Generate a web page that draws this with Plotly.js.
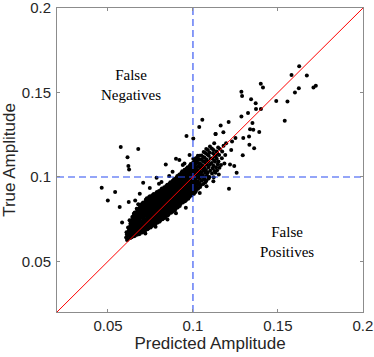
<!DOCTYPE html>
<html>
<head>
<meta charset="utf-8">
<script src="https://cdn.plot.ly/plotly-3.0.1.min.js"></script>
<style>html,body{margin:0;padding:0;background:#fff;}#chart{width:374px;height:357px;}</style>
</head>
<body>
<div id="chart"></div>
<script>
// Axis settings
const axisRange = [0.02, 0.2];
const tickValues = [0.05, 0.1, 0.15, 0.2];
const tickLabels = ["0.05", "0.1", "0.15", "0.2"];
const threshold = 0.1;
const xTitle = "Predicted Amplitude";
const yTitle = "True Amplitude";
const labelFN = "False<br>Negatives";
const labelFP = "False<br>Positives";

// Dense core of the cloud, one column of true values per predicted value
const coreColumnX = [0.061,0.062,0.063,0.064,0.065,0.066,0.067,0.068,0.069,0.070,
  0.071,0.072,0.073,0.074,0.075,0.076,0.077,0.078,0.079,0.080,
  0.081,0.082,0.083,0.084,0.085,0.086,0.087,0.088,0.089,0.090,
  0.091,0.092,0.093,0.094,0.095,0.096,0.097,0.098,0.099,0.100,
  0.101,0.102,0.103,0.104,0.105,0.106,0.107,0.108,0.109,0.110];
const coreColumnY = [
[0.0626,0.0641,0.0659,0.0672],
[0.0633,0.0651,0.0666,0.0684,0.0701],
[0.0638,0.0657,0.0673,0.0692,0.0708,0.0724,0.0743],
[0.0642,0.0659,0.0677,0.0694,0.0711,0.0729,0.0745,0.0762],
[0.0648,0.0663,0.0682,0.0698,0.0716,0.0731,0.0749,0.0767,0.0782],
[0.0652,0.0670,0.0686,0.0705,0.0721,0.0738,0.0756,0.0771,0.0790],
[0.0657,0.0674,0.0691,0.0708,0.0726,0.0743,0.0759,0.0778,0.0795,0.0812],
[0.0661,0.0679,0.0695,0.0713,0.0731,0.0746,0.0764,0.0781,0.0799,0.0815,0.0838],
[0.0664,0.0682,0.0700,0.0716,0.0734,0.0752,0.0768,0.0786,0.0803,0.0821,0.0835],
[0.0671,0.0688,0.0705,0.0722,0.0738,0.0757,0.0773,0.0791,0.0808,0.0824,0.0842],
[0.0676,0.0694,0.0711,0.0727,0.0745,0.0762,0.0779,0.0796,0.0813,0.0831,0.0848],
[0.0682,0.0698,0.0716,0.0733,0.0750,0.0768,0.0784,0.0801,0.0819,0.0836,0.0853,0.0866],
[0.0690,0.0705,0.0723,0.0740,0.0757,0.0773,0.0791,0.0808,0.0824,0.0842,0.0858,0.0874],
[0.0695,0.0712,0.0729,0.0746,0.0763,0.0780,0.0797,0.0814,0.0831,0.0848,0.0864,0.0881],
[0.0701,0.0718,0.0735,0.0751,0.0769,0.0786,0.0802,0.0820,0.0837,0.0853,0.0870,0.0886],
[0.0709,0.0725,0.0742,0.0759,0.0776,0.0793,0.0810,0.0826,0.0843,0.0860,0.0876,0.0892],
[0.0714,0.0731,0.0748,0.0765,0.0782,0.0799,0.0816,0.0832,0.0850,0.0866,0.0883,0.0899],
[0.0721,0.0737,0.0754,0.0772,0.0788,0.0805,0.0822,0.0839,0.0856,0.0872,0.0889,0.0904],
[0.0729,0.0746,0.0762,0.0779,0.0796,0.0813,0.0830,0.0847,0.0863,0.0880,0.0896,0.0911],
[0.0734,0.0751,0.0768,0.0785,0.0802,0.0819,0.0836,0.0852,0.0869,0.0886,0.0902,0.0916],
[0.0741,0.0758,0.0775,0.0792,0.0808,0.0825,0.0842,0.0859,0.0876,0.0892,0.0908,0.0922],
[0.0749,0.0766,0.0783,0.0800,0.0817,0.0833,0.0850,0.0867,0.0884,0.0900,0.0916,0.0931],
[0.0756,0.0772,0.0789,0.0806,0.0823,0.0840,0.0857,0.0873,0.0890,0.0907,0.0923,0.0939],
[0.0762,0.0779,0.0796,0.0813,0.0830,0.0846,0.0863,0.0880,0.0897,0.0913,0.0930,0.0947],
[0.0771,0.0787,0.0804,0.0821,0.0838,0.0855,0.0871,0.0888,0.0905,0.0921,0.0938,0.0953],
[0.0779,0.0796,0.0812,0.0829,0.0846,0.0863,0.0880,0.0896,0.0913,0.0930,0.0946,0.0960],
[0.0788,0.0805,0.0821,0.0838,0.0855,0.0872,0.0888,0.0905,0.0922,0.0938,0.0954,0.0968],
[0.0794,0.0811,0.0828,0.0845,0.0862,0.0878,0.0895,0.0912,0.0928,0.0945,0.0961,0.0978],
[0.0801,0.0818,0.0835,0.0852,0.0868,0.0885,0.0902,0.0919,0.0935,0.0952,0.0969,0.0987],
[0.0811,0.0827,0.0844,0.0861,0.0878,0.0894,0.0911,0.0928,0.0945,0.0961,0.0978,0.0996],
[0.0819,0.0836,0.0853,0.0870,0.0886,0.0903,0.0920,0.0937,0.0953,0.0970,0.0987,0.1005],
[0.0828,0.0845,0.0862,0.0879,0.0895,0.0912,0.0929,0.0946,0.0962,0.0979,0.0996,0.1014],
[0.0839,0.0856,0.0872,0.0889,0.0906,0.0923,0.0939,0.0956,0.0973,0.0990,0.1006,0.1024],
[0.0848,0.0865,0.0881,0.0898,0.0915,0.0932,0.0948,0.0965,0.0982,0.0999,0.1015,0.1033],
[0.0856,0.0873,0.0890,0.0906,0.0923,0.0940,0.0957,0.0973,0.0990,0.1007,0.1024,0.1042],
[0.0862,0.0879,0.0896,0.0913,0.0930,0.0946,0.0963,0.0980,0.0997,0.1013,0.1030,0.1050],
[0.0871,0.0888,0.0905,0.0921,0.0938,0.0955,0.0972,0.0988,0.1005,0.1022,0.1039,0.1058],
[0.0880,0.0897,0.0914,0.0930,0.0947,0.0964,0.0981,0.0997,0.1014,0.1031,0.1048,0.1067],
[0.0890,0.0907,0.0924,0.0940,0.0957,0.0974,0.0991,0.1007,0.1024,0.1041,0.1058,0.1076],
[0.0899,0.0916,0.0932,0.0949,0.0966,0.0983,0.1000,0.1016,0.1033,0.1050,0.1067,0.1085],
[0.0909,0.0928,0.0947,0.0966,0.0985,0.1004,0.1023,0.1042,0.1061,0.1080,0.1099],
[0.0918,0.0938,0.0958,0.0978,0.0998,0.1018,0.1038,0.1058,0.1078,0.1098,0.1112],
[0.0930,0.0952,0.0974,0.0996,0.1018,0.1040,0.1062,0.1084,0.1106,0.1125],
[0.0941,0.0964,0.0987,0.1010,0.1033,0.1056,0.1079,0.1102,0.1125],
[0.0952,0.0977,0.1002,0.1027,0.1052,0.1077,0.1102,0.1127],
[0.0958,0.0985,0.1012,0.1039,0.1066,0.1093,0.1120,0.1147],
[0.0968,0.0997,0.1026,0.1055,0.1084,0.1113,0.1142],
[0.0979,0.1010,0.1041,0.1072,0.1103,0.1134,0.1165],
[0.0990,0.1024,0.1058,0.1092,0.1126,0.1160],
[0.1000,0.1036,0.1072,0.1108,0.1144,0.1180]
];
// Small offsets of predicted value inside each column (read as spread of the dots)
const columnJitter = [0.0002,-0.0003,0.0001,-0.0001,0.0003,-0.0002,0.0000,0.0002,-0.0003,0.0001,0.0003,-0.0001];

// Scattered points around the cloud: [predicted, true]
const sparsePoints = [
[0.0660,0.0860],[0.0687,0.0900],[0.0707,0.0965],[0.0746,0.0935],[0.0786,0.0995],[0.0815,0.0970],
[0.0840,0.1073],[0.0880,0.1030],[0.0900,0.1107],[0.0920,0.1100],[0.0950,0.1080],[0.0962,0.1242],
[0.1002,0.1227],[0.1002,0.1107],[0.1037,0.1295],[0.1055,0.1338],[0.0980,0.1130],[0.0940,0.1070],
[0.0860,0.1005],[0.0800,0.0960],[0.0720,0.0665],[0.0780,0.0705],[0.0850,0.0748],[0.0900,0.0785],
[0.0958,0.0818],[0.0998,0.0936],[0.1006,0.0900],[0.1040,0.0905],[0.1080,0.0945],[0.1120,0.0975],
[0.1112,0.1020],[0.1116,0.1052],[0.1110,0.1082],[0.1114,0.1110],[0.1118,0.1140],[0.1111,0.1168],
[0.1122,0.0998],[0.1126,0.1035],[0.1120,0.1066],[0.1124,0.1098],[0.1128,0.1128],[0.1121,0.1160],[0.1125,0.1200],
[0.1132,0.1025],[0.1136,0.1058],[0.1130,0.1090],[0.1134,0.1120],[0.1138,0.1150],[0.1133,0.1254],
[0.1142,0.1040],[0.1146,0.1075],[0.1140,0.1108],[0.1144,0.1138],[0.1148,0.1175],
[0.1152,0.1015],[0.1156,0.1055],[0.1150,0.1092],[0.1154,0.1130],[0.1158,0.1165],
[0.1163,0.1305],[0.1165,0.1070],[0.1170,0.1110],[0.1172,0.1150],[0.1179,0.1264],[0.1180,0.1185],[0.1185,0.1080],
[0.1190,0.1130],[0.1195,0.1200],[0.1210,0.1325],[0.1212,0.0930],[0.1218,0.1073],[0.1225,0.1160],[0.1230,0.1210],
[0.1243,0.1064],[0.1257,0.1024],[0.1250,0.1230],
[0.1285,0.1505],[0.1289,0.1480],[0.1293,0.1128],[0.1285,0.1358],[0.1324,0.1378],[0.1332,0.1191],[0.1360,0.1170],
[0.1342,0.1460],[0.1369,0.1437],[0.1371,0.1403],[0.1400,0.1403],[0.1399,0.1552],[0.1412,0.1529],[0.1490,0.1450],
[0.1556,0.1446],[0.1540,0.1333],[0.1625,0.1656],[0.1580,0.1603],[0.1670,0.1600],[0.1623,0.1525],[0.1723,0.1540],
[0.1709,0.1529],[0.1600,0.1500],
[0.1296,0.1230],[0.1330,0.1240],[0.1355,0.1280],[0.1350,0.1319],[0.1390,0.1266],[0.1336,0.1283],
[0.0575,0.1177],[0.0678,0.1166],[0.0615,0.1117],[0.0620,0.1064],[0.0624,0.1044],[0.0463,0.0936],[0.0542,0.0910],
[0.0499,0.0861],[0.0622,0.0852],[0.0569,0.0822],[0.0583,0.0730],[0.1133,0.1254],[0.0966,0.0877]
];

const predicted = [];
const trueAmp = [];
coreColumnX.forEach((cx, i) => {
  coreColumnY[i].forEach((cy, j) => {
    predicted.push(cx + columnJitter[(i + j) % columnJitter.length]);
    trueAmp.push(cy);
  });
});
sparsePoints.forEach(p => { predicted.push(p[0]); trueAmp.push(p[1]); });

const traces = [
  {
    type: 'scatter', mode: 'markers', x: predicted, y: trueAmp,
    marker: {color: '#000000', size: 4, line: {width: 0}},
    hoverinfo: 'skip', showlegend: false
  },
  {
    type: 'scatter', mode: 'lines', x: [threshold, threshold], y: axisRange,
    line: {color: '#2a4cf2', width: 1.1, dash: '7px,4px'}, hoverinfo: 'skip', showlegend: false
  },
  {
    type: 'scatter', mode: 'lines', x: axisRange, y: [threshold, threshold],
    line: {color: '#2a4cf2', width: 1.1, dash: '7px,4px'}, hoverinfo: 'skip', showlegend: false
  },
  {
    type: 'scatter', mode: 'lines', x: axisRange, y: axisRange,
    line: {color: '#ff0000', width: 1}, hoverinfo: 'skip', showlegend: false
  }
];

const axisCommon = {
  range: [axisRange[0], axisRange[1] + 0.00005], tickvals: tickValues, ticktext: tickLabels,
  showgrid: false, zeroline: false, showline: true, linecolor: '#8c8c8c', linewidth: 1,
  mirror: 'ticks', ticks: 'inside', ticklen: 3, tickcolor: '#8c8c8c',
  ticklabeloverflow: 'allow',
  tickfont: {family: 'Liberation Sans, Arial, sans-serif', size: 15, color: '#262626'}
};

const layout = {
  width: 374, height: 357,
  margin: {l: 57, r: 11, t: 8, b: 45},
  paper_bgcolor: '#ffffff', plot_bgcolor: '#ffffff',
  xaxis: Object.assign({}, axisCommon, {
    title: {text: xTitle, font: {family: 'Liberation Sans, Arial, sans-serif', size: 17, color: '#262626'}, standoff: 3}
  }),
  yaxis: Object.assign({}, axisCommon, {
    ticklabelstandoff: 2,
    title: {text: yTitle, font: {family: 'Liberation Sans, Arial, sans-serif', size: 17, color: '#262626'}, standoff: 3}
  }),
  annotations: [
    {x: 0.0635, y: 0.1546, xref: 'x', yref: 'y', text: labelFN, showarrow: false,
     font: {family: 'Liberation Serif, Times New Roman, serif', size: 15, color: '#000'}},
    {x: 0.1554, y: 0.0615, xref: 'x', yref: 'y', text: labelFP, showarrow: false,
     font: {family: 'Liberation Serif, Times New Roman, serif', size: 15, color: '#000'}}
  ]
};

Plotly.newPlot('chart', traces, layout, {displayModeBar: false, staticPlot: true});
</script>
</body>
</html>
